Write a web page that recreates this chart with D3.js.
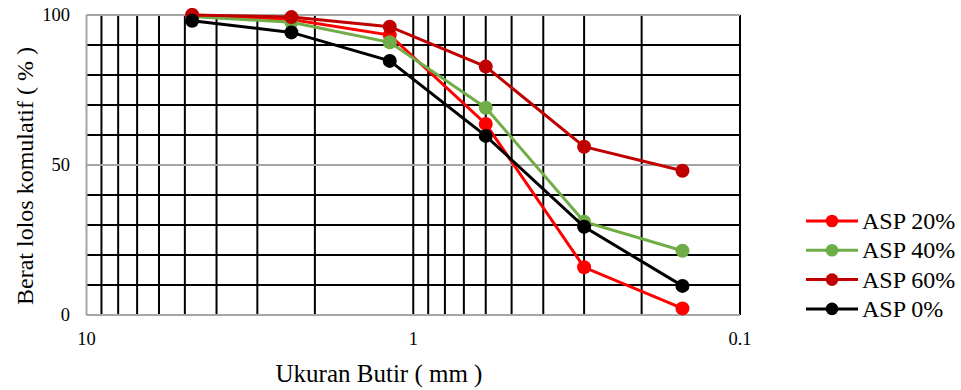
<!DOCTYPE html>
<html>
<head>
<meta charset="utf-8">
<script src="https://cdn.jsdelivr.net/npm/d3@7"></script>
<style>
  body { margin: 0; background: #fff; }
</style>
</head>
<body>
<div id="chart"></div>
<script>
// sieve sizes (mm) and cumulative passing (%)
const sizes = [4.75, 2.36, 1.18, 0.6, 0.3, 0.15];
const asp20 = [100, 98.5, 93.3, 63.7, 15.9, 2.2];
const asp40 = [99.5, 97.6, 90.9, 69.1, 31.1, 21.4];
const asp60 = [100, 99.3, 96.1, 82.8, 56.1, 48.1];
const asp0 = [98.1, 94.2, 84.7, 59.7, 29.4, 9.7];
const seriesNames = ["ASP 20%", "ASP 40%", "ASP 60%", "ASP 0%"];
const seriesColors = ["#ff0000", "#70ad47", "#c00000", "#000000"];
const xTicks = [10, 1, 0.1];
const yTicks = [0, 50, 100];

const font = "Liberation Serif";
const width = 961, height = 390;
const svg = d3.select("#chart").append("svg").attr("width", width).attr("height", height)
  .attr("font-family", font);

const x = d3.scaleLog().domain([10, 0.1]).range([86.5, 740]);
const y = d3.scaleLinear().domain([0, 100]).range([315, 15]);

// gridlines
const minorX = [];
[1, 0.1].forEach(b => { for (let k = 2; k <= 9; k++) minorX.push(b * k); });
svg.append("g").selectAll("line").data(minorX.concat([1, 0.1])).join("line")
  .attr("x1", d => x(d)).attr("x2", d => x(d)).attr("y1", y(0)).attr("y2", y(100))
  .attr("stroke", "#000").attr("stroke-width", 2);

const minorY = d3.range(10, 100, 10).filter(v => v !== 50);
svg.append("g").selectAll("line").data(minorY).join("line")
  .attr("x1", x(10)).attr("x2", x(0.1)).attr("y1", d => y(d)).attr("y2", d => y(d))
  .attr("stroke", "#000").attr("stroke-width", 2);

svg.append("g").selectAll("line").data(yTicks).join("line")
  .attr("x1", x(10)).attr("x2", x(0.1)).attr("y1", d => y(d)).attr("y2", d => y(d))
  .attr("stroke", "#a6a6a6").attr("stroke-width", 2);
svg.append("line").attr("x1", x(10)).attr("x2", x(10)).attr("y1", y(0)).attr("y2", y(100))
  .attr("stroke", "#a6a6a6").attr("stroke-width", 2);

// tick labels
svg.append("g").selectAll("text").data(yTicks).join("text")
  .attr("font-family", font)
  .attr("x", 70).attr("y", d => y(d)).attr("dy", "0.32em")
  .attr("text-anchor", "end").attr("font-size", 18.5).text(d => d);
svg.append("g").selectAll("text").data(xTicks).join("text")
  .attr("font-family", font)
  .attr("x", d => x(d)).attr("y", 345)
  .attr("text-anchor", "middle").attr("font-size", 18.5).text(d => d);

// axis titles
svg.append("text").attr("font-family", font).attr("x", 379).attr("y", 382).attr("text-anchor", "middle")
  .attr("font-size", 25).text("Ukuran Butir ( mm )");
svg.append("text").attr("font-family", font).attr("transform", "translate(33,176) rotate(-90)")
  .attr("text-anchor", "middle").attr("font-size", 24).text("Berat lolos komulatif ( % )");

// series
const allSeries = [asp20, asp40, asp60, asp0];
const line = d3.line().x((d, i) => x(sizes[i])).y(d => y(d));
allSeries.forEach((vals, s) => {
  const g = svg.append("g");
  g.append("path").attr("d", line(vals)).attr("fill", "none")
    .attr("stroke", seriesColors[s]).attr("stroke-width", 3);
  g.selectAll("circle").data(vals).join("circle")
    .attr("cx", (d, i) => x(sizes[i])).attr("cy", d => y(d)).attr("r", 7)
    .attr("fill", seriesColors[s]);
});

// legend
const leg = svg.append("g").attr("transform", "translate(806,221)");
seriesNames.forEach((name, i) => {
  const row = leg.append("g").attr("transform", `translate(0,${i * 29.3})`);
  row.append("line").attr("x1", 0).attr("x2", 52).attr("stroke", seriesColors[i]).attr("stroke-width", 3);
  row.append("circle").attr("cx", 26).attr("r", 6.3).attr("fill", seriesColors[i]);
  row.append("text").attr("font-family", font).attr("x", 56).attr("dy", "0.34em")
    .attr("font-size", 24).text(name);
});
</script>
</body>
</html>
